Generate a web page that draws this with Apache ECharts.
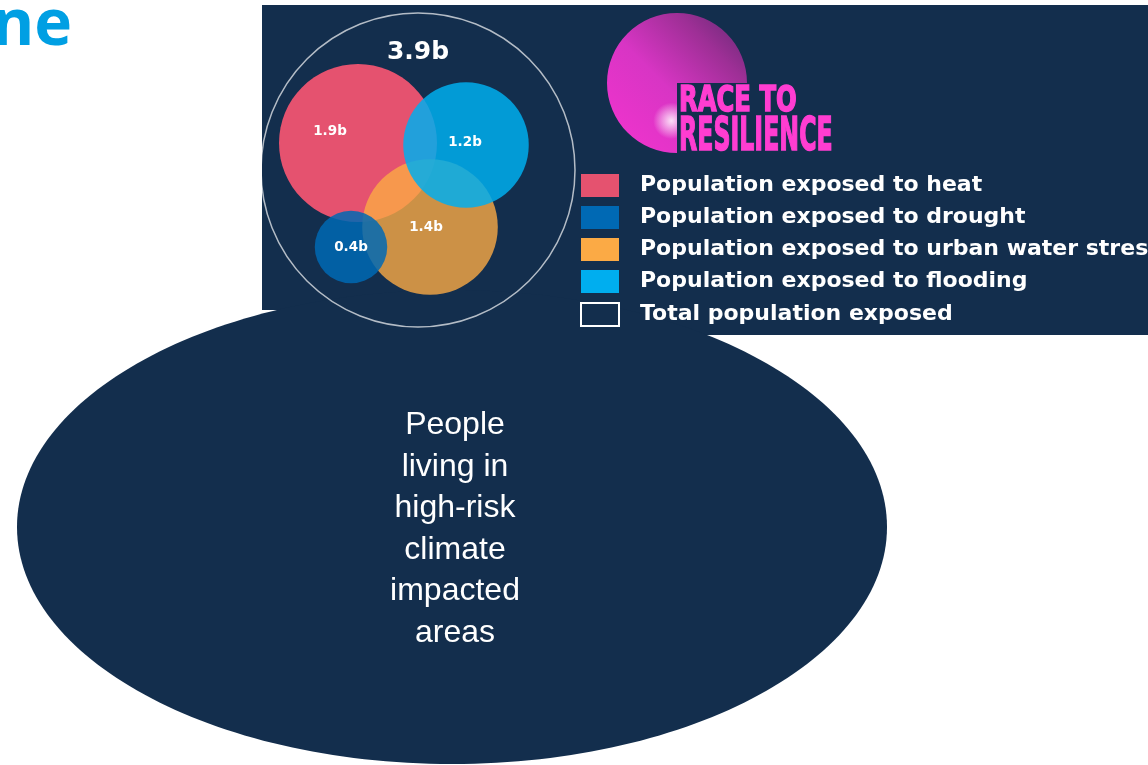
<!DOCTYPE html>
<html><head><meta charset="utf-8">
<script src="https://cdn.jsdelivr.net/npm/echarts@6/dist/echarts.min.js"></script>
<style>html,body{margin:0;padding:0;background:#fff;overflow:hidden}#c{width:1148px;height:765px}</style>
</head><body><div id="c"></div>
<script>
// ---- data ----
const categories = [
  'Population exposed to heat',
  'Population exposed to drought',
  'Population exposed to urban water stress',
  'Population exposed to flooding',
  'Total population exposed'
];
const valuesBn = [1.9, 0.4, 1.4, 1.2, 3.9];
const unitSuffix = 'b';
const bubbleText = ['People', 'living in', 'high-risk', 'climate', 'impacted', 'areas'];
const titleText = 'ne';
const logoLines = ['RACE TO', 'RESILIENCE'];

// ---- layout & style (page pixel space) ----
const navy = '#132e4d';
const legendColors = ['#e5526f', '#0069b4', '#fbaa45', '#00aeef', navy];
const centres = [[358, 143], [351, 247], [430, 227], [466, 145], [418, 170]];
const labelOffsets = [[-28, -12], [0, 0], [-4, 0], [-1, -3], [0, -118]];
const opacities = [1, 0.85, 0.8, 0.85, 1];
const drawOrder = [0, 2, 3, 1, 4];
const sizeK = 57.3;           // radius per sqrt(billion)
const totalRadius = 157;      // enclosing circle

const chart = echarts.init(document.getElementById('c'), null, {renderer: 'canvas'});

const series = drawOrder.map((i, k) => {
  const isTotal = i === 4;
  return {
    type: 'scatter',
    name: categories[i],
    z: 2 + k,
    silent: true,
    animation: false,
    data: [[centres[i][0], centres[i][1], valuesBn[i]]],
    symbol: 'circle',
    symbolSize: (v) => isTotal ? totalRadius * 2 : 2 * sizeK * Math.sqrt(v[2]),
    itemStyle: isTotal
      ? {color: 'rgba(0,0,0,0)', borderColor: 'rgba(255,255,255,0.85)', borderWidth: 1.5}
      : {color: legendColors[i], opacity: opacities[i]},
    label: {
      show: true,
      position: 'inside',
      offset: labelOffsets[i],
      formatter: (p) => p.value[2] + unitSuffix,
      color: '#ffffff',
      opacity: 1,
      fontFamily: 'DejaVu Sans',
      fontWeight: 'bold',
      fontSize: isTotal ? 25 : 13.5
    },
    emphasis: {disabled: true}
  };
});

const option = {
  backgroundColor: '#ffffff',
  animation: false,
  grid: {left: 0, right: 0, top: 0, bottom: 0, show: false},
  xAxis: {type: 'value', min: 0, max: 1148, show: false},
  yAxis: {type: 'value', min: 0, max: 765, inverse: true, show: false},
  legend: {
    orient: 'vertical',
    left: 580,
    top: 174,
    padding: 0,
    itemWidth: 38,
    itemHeight: 23,
    itemGap: 9,
    icon: 'rect',
    selectedMode: false,
    data: categories.map((n, i) => ({
      name: n,
      itemStyle: i === 4
        ? {color: navy, borderColor: '#ffffff', borderWidth: 2, opacity: 1}
        : {color: legendColors[i], borderWidth: 0, opacity: 1}
    })),
    textStyle: {
      color: '#ffffff',
      fontFamily: 'DejaVu Sans',
      fontWeight: 'bold',
      fontSize: 22,
      lineHeight: 23,
      padding: [0, 0, 0, 16]
    }
  },
  graphic: [
    {type: 'rect', z: -10, silent: true, shape: {x: 262, y: 5, width: 886, height: 305}, style: {fill: navy}},
    {type: 'rect', z: -10, silent: true, shape: {x: 575, y: 5, width: 573, height: 330}, style: {fill: navy}},
    {type: 'ellipse', z: -10, silent: true, shape: {cx: 452, cy: 527, rx: 435, ry: 237}, style: {fill: navy}},
    {type: 'text', z: 1, silent: true, x: 455, y: 529,
      style: {text: bubbleText.join('\n'), fill: '#ffffff', fontFamily: 'Liberation Sans', fontSize: 32,
        lineHeight: 41.5, align: 'center', verticalAlign: 'middle'}},
    {type: 'text', z: 1, silent: true, x: 72, y: 27,
      style: {text: titleText, fill: '#009fe3', fontFamily: 'Open Sans', fontWeight: 'bold', fontSize: 64,
        align: 'right', verticalAlign: 'middle'}},
    {type: 'sector', z: 1, silent: true,
      shape: {cx: 677, cy: 83, r: 70, r0: 0, startAngle: Math.PI / 2, endAngle: Math.PI * 2, clockwise: true},
      style: {fill: new echarts.graphic.LinearGradient(0, 1, 1, 0, [
        {offset: 0, color: '#f433cf'}, {offset: 0.45, color: '#d835c4'}, {offset: 0.75, color: '#9e2f96'}, {offset: 1, color: '#5e2a70'}
      ])}},
    {type: 'sector', z: 1, silent: true,
      shape: {cx: 677, cy: 83, r: 70, r0: 0, startAngle: Math.PI / 2, endAngle: Math.PI * 2, clockwise: true},
      style: {fill: new echarts.graphic.RadialGradient(0.46, 0.77, 0.13, [
        {offset: 0, color: 'rgba(255,240,252,0.9)'}, {offset: 1, color: 'rgba(255,255,255,0)'}
      ])}},
    {type: 'text', z: 2, silent: true, x: 679, y: 102, scaleX: 0.75,
      style: {text: logoLines[0], fill: '#ff3dd1', stroke: '#ff3dd1', lineWidth: 1.5,
        fontFamily: 'DejaVu Sans Condensed', fontWeight: 'bold',
        fontSize: 36, align: 'left', verticalAlign: 'middle'}},
    {type: 'text', z: 2, silent: true, x: 679, y: 138, scaleX: 0.56,
      style: {text: logoLines[1], fill: '#ff3dd1', stroke: '#ff3dd1', lineWidth: 1.5,
        fontFamily: 'DejaVu Sans Condensed', fontWeight: 'bold',
        fontSize: 47, align: 'left', verticalAlign: 'middle'}}
  ],
  series: series
};
chart.setOption(option);
</script>
</body></html>
